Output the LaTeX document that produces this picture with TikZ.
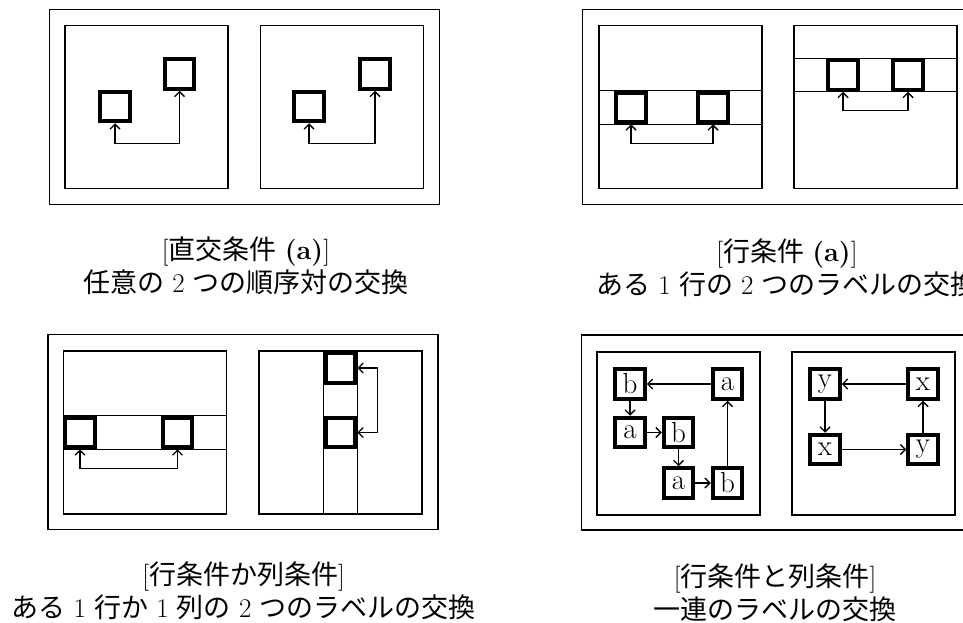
\documentclass[tikz,border=0pt]{standalone}
\usepackage{fontspec}
\newfontfamily\cjk{Noto Sans CJK JP}
\usetikzlibrary{arrows.meta}

\tikzset{
  board/.style={draw, line width=1.6pt, inner sep=0pt, minimum width=390pt, minimum height=195pt},
  pane/.style={draw, line width=1.5pt, inner sep=0pt, minimum width=163pt, minimum height=163pt},
  cell/.style={draw, line width=4pt, inner sep=0pt, minimum size=29.5pt, font=\fontsize{29}{29}\selectfont},
  band/.style={line width=1.4pt},
  trade/.style={{Straight Barb[length=5pt,width=10pt]}-{Straight Barb[length=5pt,width=10pt]}, line width=1.4pt},
  hop/.style={-{Straight Barb[length=5pt,width=10pt]}, line width=1.4pt},
  caption/.style={align=center, inner sep=0pt, font=\fontsize{27}{33}\selectfont}
}

\begin{document}
\begin{tikzpicture}[x=1pt, y=-1pt]
\useasboundingbox (0,0) rectangle (963,623);

% orthogonal condition
\node[board] (boardA) at (244.5,107) {};
\node[pane] (paneAL) at (146.5,107) {};
\node[pane] (paneAR) at (342,107) {};
\node[cell] (sqAL1) at (115,106.5) {};
\node[cell] (sqAL2) at (179.5,74) {};
\node[cell] (sqAR1) at (309,106.5) {};
\node[cell] (sqAR2) at (375,74) {};
\draw[trade] (sqAL1.south) -- ++(0,20) -| (sqAL2.south);
\draw[trade] (sqAR1.south) -- ++(0,20) -| (sqAR2.south);
\node[caption] (capA) at (246,266) {[{\cjk 直交条件} \textbf{(a)}]\\{\cjk 任意の} 2 {\cjk つの順序対の交換}};

% row condition
\node[board] (boardB) at (777.5,107) {};
\node[pane] (paneBL) at (680.5,107) {};
\node[pane] (paneBR) at (875.5,107) {};
\node[cell] (sqBL1) at (631,107.5) {};
\node[cell] (sqBL2) at (713,107.5) {};
\node[cell] (sqBR1) at (843,75) {};
\node[cell] (sqBR2) at (908,75) {};
\draw[band] (paneBL.west |- sqBL1.north) -- (paneBL.east |- sqBL1.north);
\draw[band] (paneBL.west |- sqBL1.south) -- (paneBL.east |- sqBL1.south);
\draw[band] (paneBR.west |- sqBR1.north) -- (paneBR.east |- sqBR1.north);
\draw[band] (paneBR.west |- sqBR1.south) -- (paneBR.east |- sqBR1.south);
\draw[trade] (sqBL1.south) -- ++(0,19) -| (sqBL2.south);
\draw[trade] (sqBR1.south) -- ++(0,19) -| (sqBR2.south);
\node[caption] (capB) at (787,268) {[{\cjk 行条件} \textbf{(a)}]\\{\cjk ある} 1 {\cjk 行の} 2 {\cjk つのラベルの交換}};

% row or column condition
\node[board] (boardC) at (243,432) {};
\node[pane] (paneCL) at (145,432.5) {};
\node[pane] (paneCR) at (340.5,432.5) {};
\node[cell] (sqCL1) at (80,432.5) {};
\node[cell] (sqCL2) at (177.5,432.5) {};
\node[cell] (sqCR1) at (340.5,368) {};
\node[cell] (sqCR2) at (340.5,432.5) {};
\draw[band] (paneCL.west |- sqCL1.north) -- (paneCL.east |- sqCL1.north);
\draw[band] (paneCL.west |- sqCL1.south) -- (paneCL.east |- sqCL1.south);
\draw[band] (sqCR1.west |- paneCR.north) -- (sqCR1.west |- paneCR.south);
\draw[band] (sqCR1.east |- paneCR.north) -- (sqCR1.east |- paneCR.south);
\draw[trade] (sqCL1.south) -- ++(0,19) -| (sqCL2.south);
\draw[trade] (sqCR1.east) -- ++(20,0) |- (sqCR2.east);
\node[caption] (capC) at (243.5,591) {[{\cjk 行条件か列条件}]\\{\cjk ある} 1 {\cjk 行か} 1 {\cjk 列の} 2 {\cjk つのラベルの交換}};

% row and column condition
\node[board] (boardD) at (776.5,432.5) {};
\node[pane] (paneDL) at (678.5,433.5) {};
\node[pane] (paneDR) at (873.5,433.5) {};
\node[cell] (b1) at (630,384) {b};
\node[cell] (a1) at (727.5,384) {a};
\node[cell] (a2) at (630,432.5) {a};
\node[cell] (b2) at (678.5,432.5) {b};
\node[cell] (a3) at (678.5,483) {a};
\node[cell] (b3) at (727.5,483) {b};
\draw[hop] (a1) -- (b1);
\draw[hop] (b1) -- (a2);
\draw[hop] (a2) -- (b2);
\draw[hop] (b2) -- (a3);
\draw[hop] (a3) -- (b3);
\draw[hop] (b3) -- (a1);
\node[cell] (y1) at (825,384) {y};
\node[cell] (x1) at (923,384) {x};
\node[cell] (x2) at (825,449.5) {x};
\node[cell] (y2) at (923,449.5) {y};
\draw[hop] (x1) -- (y1);
\draw[hop] (y1) -- (x2);
\draw[hop] (x2) -- (y2);
\draw[hop] (y2) -- (x1);
\node[caption] (capD) at (775,593) {[{\cjk 行条件と列条件}]\\{\cjk 一連のラベルの交換}};
\end{tikzpicture}
\end{document}
